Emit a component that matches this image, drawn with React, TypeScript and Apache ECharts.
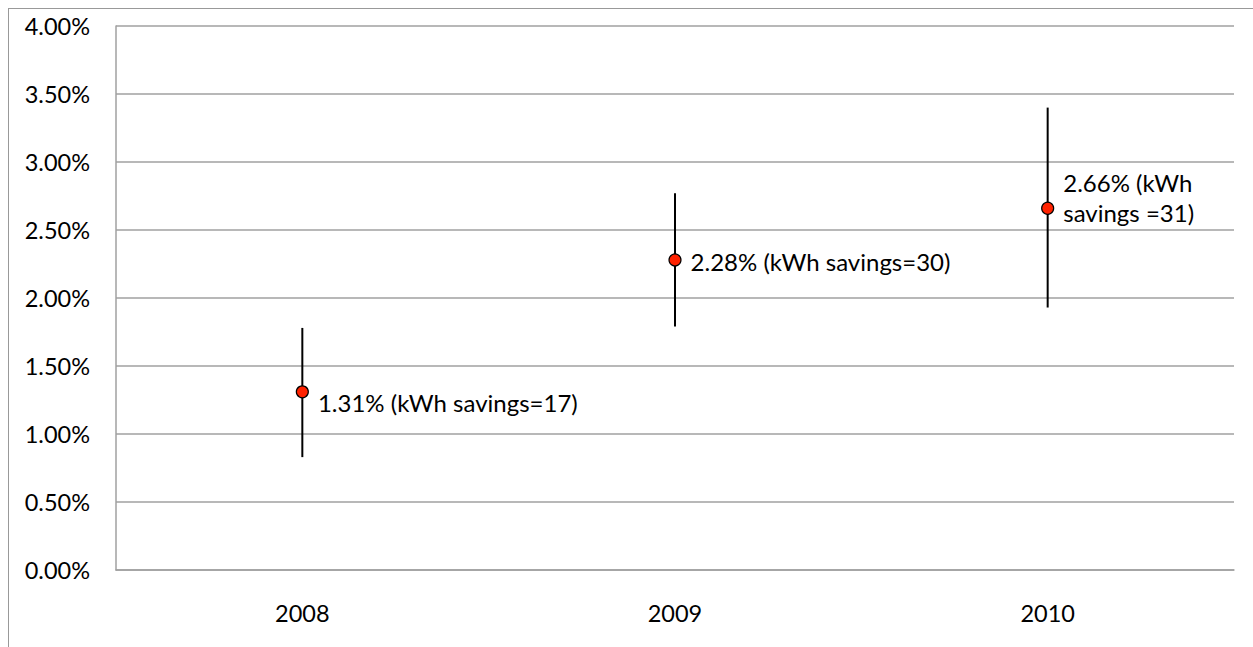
import React, { useEffect, useRef } from "react";
import * as echarts from "echarts";

const years = ["2008", "2009", "2010"];
const values = [1.31, 2.28, 2.66];
const lows = [0.83, 1.79, 1.93];
const highs = [1.78, 2.77, 3.4];
const labels = ["1.31% (kWh savings=17)", "2.28% (kWh savings=30)", "2.66% (kWh\nsavings =31)"];

const FONT = "Lato";

export default function App() {
  const ref = useRef<HTMLDivElement>(null);
  useEffect(() => {
    if (!ref.current) return;
    const chart = echarts.init(ref.current, null, { renderer: "svg" });
    const labelOffsets = [[0, 11], [0, 2], [0, -11]];
    chart.setOption({
      animation: false,
      grid: { left: 107, right: 19, top: 17, bottom: 77, containLabel: false },
      xAxis: {
        type: "category",
        data: years,
        boundaryGap: true,
        axisLine: { show: true, lineStyle: { color: "#a0a0a0", width: 1.5 } },
        axisTick: { show: false },
        axisLabel: { color: "#000", fontFamily: FONT, fontSize: 23.5, margin: 31 },
        splitLine: { show: false },
      },
      yAxis: {
        type: "value",
        min: 0,
        max: 4,
        interval: 0.5,
        axisLine: { show: true, lineStyle: { color: "#a0a0a0", width: 1.5 } },
        axisTick: { show: false },
        axisLabel: {
          color: "#000",
          fontFamily: FONT,
          fontSize: 23.5,
          margin: 26,
          verticalAlign: "middle",
          padding: [7, 0, 0, 0],
          formatter: (v: number) => v.toFixed(2) + "%",
        },
        splitLine: { show: true, lineStyle: { color: "#a0a0a0", width: 1.5 } },
      },
      series: [
        {
          type: "custom",
          data: years.map((y, i) => [i, lows[i], highs[i]]),
          renderItem: (params: any, api: any) => {
            const x = api.value(0);
            const p1 = api.coord([x, api.value(1)]);
            const p2 = api.coord([x, api.value(2)]);
            return {
              type: "line",
              shape: { x1: p1[0], y1: p1[1], x2: p2[0], y2: p2[1] },
              style: { stroke: "#000", lineWidth: 2 },
            };
          },
          z: 2,
        },
        {
          type: "scatter",
          data: values.map((v, i) => ({
            value: [i, v],
            label: {
              show: true,
              position: "right",
              distance: 9,
              offset: labelOffsets[i],
              formatter: labels[i],
              color: "#000",
              fontFamily: FONT,
              fontSize: 24,
              lineHeight: 30,
            },
          })),
          symbol: "circle",
          symbolSize: 12,
          itemStyle: { color: "#ff2200", borderColor: "#000", borderWidth: 1.2, opacity: 1 },
          z: 3,
        },
      ],
    });
    return () => chart.dispose();
  }, []);
  return (
    <div
      style={{
        position: "fixed",
        left: 8,
        top: 8,
        width: 1245,
        height: 639,
        boxSizing: "border-box",
        borderLeft: "1px solid #999",
        borderTop: "1px solid #999",
        background: "#fff",
      }}
    >
      <div ref={ref} style={{ width: 1244, height: 638 }} />
    </div>
  );
}
